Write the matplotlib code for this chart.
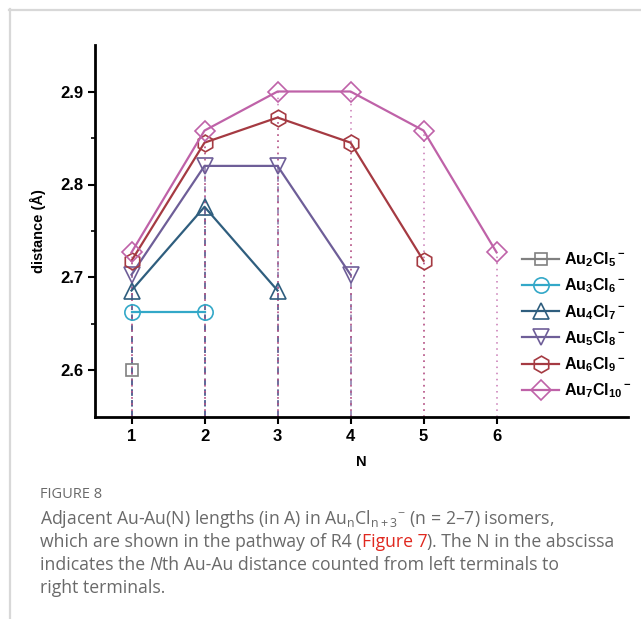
import matplotlib
matplotlib.use("Agg")
import matplotlib.pyplot as plt
from matplotlib.lines import Line2D

# Au-Au distances (Å) per cluster, N = 1 .. n-1
labels = [r"$\mathbf{Au_2Cl_5{}^-}$", r"$\mathbf{Au_3Cl_6{}^-}$", r"$\mathbf{Au_4Cl_7{}^-}$",
          r"$\mathbf{Au_5Cl_8{}^-}$", r"$\mathbf{Au_6Cl_9{}^-}$", r"$\mathbf{Au_7Cl_{10}{}^-}$"]
au2 = [2.601]
au3 = [2.663, 2.663]
au4 = [2.686, 2.776, 2.686]
au5 = [2.703, 2.820, 2.820, 2.703]
au6 = [2.718, 2.845, 2.872, 2.845, 2.718]
au7 = [2.727, 2.858, 2.900, 2.900, 2.858, 2.727]
series = [au2, au3, au4, au5, au6, au7]

colors = ["#808080", "#33a8c8", "#2f5e7e", "#6e5e98", "#a53a42", "#bf62a8"]
markers = ["s", "o", "^", "v", "h", "D"]
msizes = [9, 11, 12, 12, 12, 10]
drop_styles = [(0, (4, 3))] * 4 + [(0, (1, 3))] * 2

plt.rcParams["font.family"] = ["Liberation Sans", "DejaVu Sans"]
plt.rcParams["mathtext.fontset"] = "custom"
plt.rcParams["mathtext.bf"] = "Liberation Sans:bold"
plt.rcParams["mathtext.rm"] = "Liberation Sans"

fig = plt.figure(figsize=(6.41, 6.19), dpi=100)
ax = fig.add_axes([95 / 641, 1 - 417 / 619, (628 - 95) / 641, (417 - 45) / 619])

ymin = 2.55
for vals, c, m, ms, ds, lab in zip(series, colors, markers, msizes, drop_styles, labels):
    xs = list(range(1, len(vals) + 1))
    ax.vlines(xs, ymin, vals, colors=c, linestyles=[ds], linewidth=1.1, alpha=0.85, zorder=1)
    ax.plot(xs, vals, color=c, marker=m, markersize=ms, markerfacecolor="none",
            markeredgewidth=1.2, linewidth=1.6, label=lab, zorder=3)

ax.set_xlim(0.5, 7.8)
ax.set_ylim(ymin, 2.95)
ax.set_xticks([1, 2, 3, 4, 5, 6])
ax.set_yticks([2.6, 2.7, 2.8, 2.9])
ax.set_yticks([2.65, 2.75, 2.85], minor=True)
for s in ["top", "right"]:
    ax.spines[s].set_visible(False)
for s in ["left", "bottom"]:
    ax.spines[s].set_linewidth(2)
ax.tick_params(axis="both", which="major", direction="out", length=5, width=1.5,
               labelsize=12)
ax.tick_params(axis="y", which="minor", direction="out", length=3, width=1.2)
for t in ax.get_xticklabels() + ax.get_yticklabels():
    t.set_fontweight("bold")
ax.set_xlabel("N", fontsize=10.5, fontweight="bold", labelpad=8)
ax.set_ylabel("distance (Å)", fontsize=10.5, fontweight="bold", labelpad=10)

ax.legend(loc="upper left", bbox_to_anchor=(0.79, 0.465), frameon=False,
          fontsize=11.5, handlelength=2.3, handletextpad=0.3, labelspacing=0.47,
          borderaxespad=0)

# page frame lines
fig.add_artist(Line2D([9 / 641, 640 / 641], [1 - 9.5 / 619] * 2, color="#d8d8d8", linewidth=1.6))
fig.add_artist(Line2D([9.5 / 641] * 2, [0, 1 - 9 / 619], color="#d8d8d8", linewidth=1.6))

# caption
cap_font = ["Open Sans", "DejaVu Sans"]
gray = "#6a6a6a"
fig.text(40 / 641, 1 - 495 / 619, "FIGURE 8", fontsize=10.5, color=gray,
         family=cap_font, va="center")

fs = 12.7
renderer = fig.canvas.get_renderer()


def put_line(pieces, y):
    x = 40 / 641
    for txt, col, style in pieces:
        t = fig.text(x, 1 - y / 619, txt, fontsize=fs, color=col, family=cap_font,
                     style=style, va="center")
        bb = t.get_window_extent(renderer)
        x += bb.width / fig.bbox.width


put_line([(r"Adjacent Au-Au(N) lengths (in A) in Au$_\mathregular{n}$Cl$_\mathregular{n+3}{}^\mathregular{-}$ (n = 2–7) isomers,", gray, "normal")], 519)
put_line([("which are shown in the pathway of R4 (", gray, "normal"),
          ("Figure 7", "#e0281f", "normal"),
          ("). The N in the abscissa", gray, "normal")], 542)
put_line([("indicates the ", gray, "normal"), ("N", gray, "italic"),
          ("th Au-Au distance counted from left terminals to", gray, "normal")], 565)
put_line([("right terminals.", gray, "normal")], 588)

fig.savefig("out.png", dpi=100)
